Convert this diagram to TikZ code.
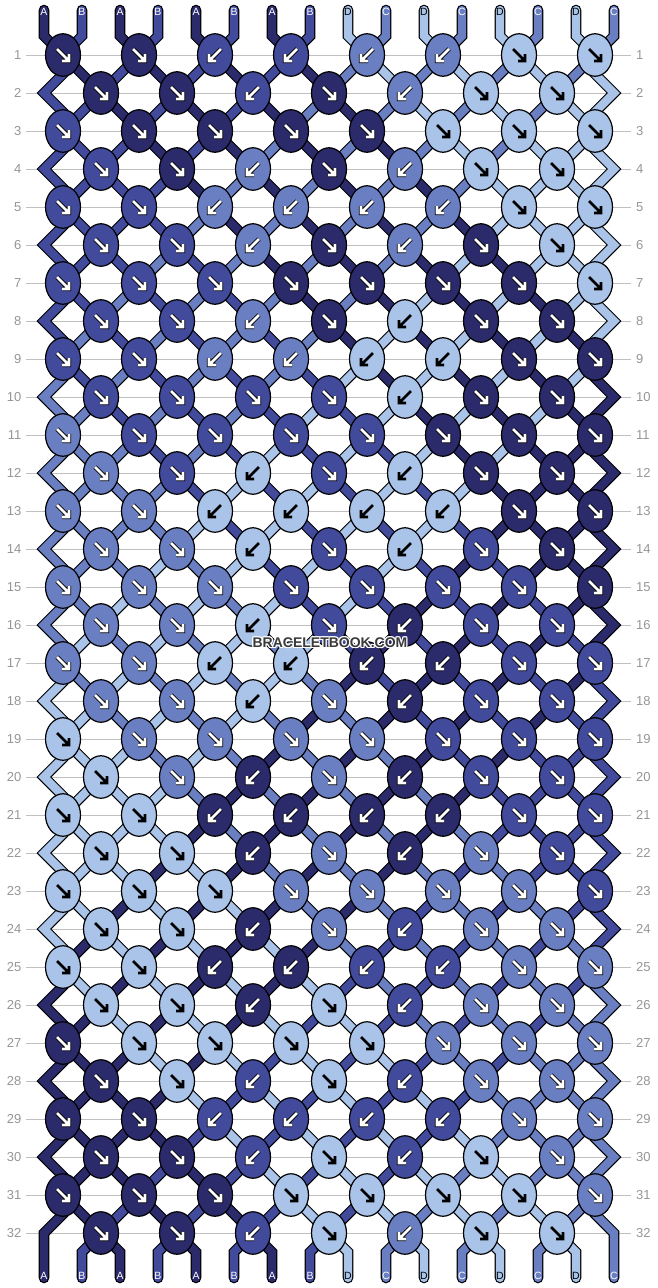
\documentclass[tikz,border=0pt]{standalone}
\usepackage{fontspec}
\setmainfont{Liberation Sans}
\usetikzlibrary{shapes.geometric}
\definecolor{colA}{HTML}{2B2A6B}
\definecolor{colB}{HTML}{414A9B}
\definecolor{colC}{HTML}{6A7EC2}
\definecolor{colD}{HTML}{A9C4E8}
\definecolor{rowgray}{HTML}{C0C0C0}
\definecolor{numgray}{HTML}{969696}
\definecolor{wmgray}{HTML}{3A3A3A}
\pgfdeclarelayer{bg}
\pgfsetlayers{bg,main}
\tikzset{
  knot/.style={ellipse, draw=black, line width=1.2pt, minimum width=35pt, minimum height=42.5pt, inner sep=0pt},
  strout/.style={draw=black, line width=10.6pt, line cap=round},
  strin/.style={line width=8.2pt, line cap=round},
  rowline/.style={draw=rowgray, line width=1pt},
  rownum/.style={text=numgray, font=\fontsize{13}{13}\selectfont, inner sep=0pt},
  strlabel/.style={font=\fontsize{10.5}{10.5}\selectfont, inner sep=0pt},
  arrout/.style={draw=black, line width=4.4pt},
  arrin/.style={draw=white, line width=2.6pt},
  arrdark/.style={draw=black, line width=2.8pt},
  wmark/.style={font=\fontsize{14}{14}\selectfont\bfseries, inner sep=0pt},
  pics/arrse/.style={code={\draw[#1] (-6,-6) -- (6,6) (6,-1) -- (6,6) -- (-1,6);}},
  pics/arrsw/.style={code={\draw[#1] (6,-6) -- (-6,6) (-6,-1) -- (-6,6) -- (1,6);}},
}
\newcommand\twopath[3]{\draw[#1] #3; \draw[#2] #3;}
\expandafter\def\csname dir1\endcsname{1,1,0,0,0,0,1,1}
\expandafter\def\csname dir2\endcsname{1,1,0,1,0,1,1}
\expandafter\def\csname dir3\endcsname{1,1,1,1,1,1,1,1}
\expandafter\def\csname dir4\endcsname{1,1,0,1,0,1,1}
\expandafter\def\csname dir5\endcsname{1,1,0,0,0,0,1,1}
\expandafter\def\csname dir6\endcsname{1,1,0,1,0,1,1}
\expandafter\def\csname dir7\endcsname{1,1,1,1,1,1,1,1}
\expandafter\def\csname dir8\endcsname{1,1,0,1,0,1,1}
\expandafter\def\csname dir9\endcsname{1,1,0,0,0,0,1,1}
\expandafter\def\csname dir10\endcsname{1,1,1,1,0,1,1}
\expandafter\def\csname dir11\endcsname{1,1,1,1,1,1,1,1}
\expandafter\def\csname dir12\endcsname{1,1,0,1,0,1,1}
\expandafter\def\csname dir13\endcsname{1,1,0,0,0,0,1,1}
\expandafter\def\csname dir14\endcsname{1,1,0,1,0,1,1}
\expandafter\def\csname dir15\endcsname{1,1,1,1,1,1,1,1}
\expandafter\def\csname dir16\endcsname{1,1,0,1,0,1,1}
\expandafter\def\csname dir17\endcsname{1,1,0,0,0,0,1,1}
\expandafter\def\csname dir18\endcsname{1,1,0,1,0,1,1}
\expandafter\def\csname dir19\endcsname{1,1,1,1,1,1,1,1}
\expandafter\def\csname dir20\endcsname{1,1,0,1,0,1,1}
\expandafter\def\csname dir21\endcsname{1,1,0,0,0,0,1,1}
\expandafter\def\csname dir22\endcsname{1,1,0,1,0,1,1}
\expandafter\def\csname dir23\endcsname{1,1,1,1,1,1,1,1}
\expandafter\def\csname dir24\endcsname{1,1,0,1,0,1,1}
\expandafter\def\csname dir25\endcsname{1,1,0,0,0,0,1,1}
\expandafter\def\csname dir26\endcsname{1,1,0,1,0,1,1}
\expandafter\def\csname dir27\endcsname{1,1,1,1,1,1,1,1}
\expandafter\def\csname dir28\endcsname{1,1,0,1,0,1,1}
\expandafter\def\csname dir29\endcsname{1,1,0,0,0,0,1,1}
\expandafter\def\csname dir30\endcsname{1,1,0,1,0,1,1}
\expandafter\def\csname dir31\endcsname{1,1,1,1,1,1,1,1}
\expandafter\def\csname dir32\endcsname{1,1,0,1,0,1,1}
\begin{document}
\begin{tikzpicture}[x=1pt,y=-1pt]
\useasboundingbox (0,0) rectangle (658,1288);
% ---- simulate the strings ----
\foreach \cc [count=\ii from 0] in {A,B,A,B,A,B,A,B,D,C,D,C,D,C,D,C}{%
  \expandafter\xdef\csname s\ii\endcsname{\cc}%
  \expandafter\xdef\csname st-0-\ii\endcsname{\cc}}
\foreach \rr in {1,...,32}{%
  \pgfmathtruncatemacro\off{mod(\rr+1,2)}%
  \edef\dl{\csname dir\rr\endcsname}%
  \foreach \dd [count=\kk from 0] in \dl {%
    \pgfmathtruncatemacro\pa{2*\kk+\off}%
    \pgfmathtruncatemacro\pb{\pa+1}%
    \edef\cla{\csname s\pa\endcsname}%
    \edef\clb{\csname s\pb\endcsname}%
    \ifnum\dd=1 \expandafter\xdef\csname kc-\rr-\kk\endcsname{\cla}%
    \else \expandafter\xdef\csname kc-\rr-\kk\endcsname{\clb}\fi
    \expandafter\xdef\csname s\pa\endcsname{\clb}%
    \expandafter\xdef\csname s\pb\endcsname{\cla}%
  }%
  \foreach \ii in {0,...,15}{\expandafter\xdef\csname st-\rr-\ii\endcsname{\csname s\ii\endcsname}}%
}
% ---- knots ----
\foreach \rr in {1,...,32}{%
  \pgfmathtruncatemacro\off{mod(\rr+1,2)}%
  \pgfmathsetmacro\ky{55+38*(\rr-1)}%
  \edef\dl{\csname dir\rr\endcsname}%
  \coordinate (EL-\rr) at (44,\ky);
  \coordinate (ER-\rr) at (614,\ky);
  \node[rownum, anchor=east] (NL-\rr) at (21.5,\ky) {\rr};
  \node[rownum, anchor=west] (NR-\rr) at (636,\ky) {\rr};
  \foreach \dd [count=\kk from 0] in \dl {%
    \pgfmathsetmacro\kx{63+38*\off+76*\kk}%
    \edef\kc{\csname kc-\rr-\kk\endcsname}%
    \edef\kfill{col\kc}%
    \node[knot, fill=\kfill] (K-\rr-\kk) at (\kx,\ky) {};
    \ifnum\dd=1
      \if D\kc \pic at (\kx,\ky) {arrse=arrdark};\else \pic at (\kx,\ky) {arrse=arrout}; \pic at (\kx,\ky) {arrse=arrin};\fi
    \else
      \if D\kc \pic at (\kx,\ky) {arrsw=arrdark};\else \pic at (\kx,\ky) {arrsw=arrout}; \pic at (\kx,\ky) {arrsw=arrin};\fi
    \fi
  }%
}
% ---- string labels ----
\foreach \ii in {0,...,15}{%
  \edef\ct{\csname st-0-\ii\endcsname}%
  \if D\ct \def\tc{black}\else\def\tc{white}\fi
  \node[strlabel, text=\tc] (T-\ii) at (44+38*\ii,12) {\ct};
  \edef\cb{\csname st-32-\ii\endcsname}%
  \if D\cb \def\tc{black}\else\def\tc{white}\fi
  \node[strlabel, text=\tc] (B-\ii) at (44+38*\ii,1276) {\cb};
  \coordinate (BB-\ii) at (44+38*\ii,1252);
}
% ---- strings and row lines (behind) ----
\begin{pgfonlayer}{bg}
\fill[white] (0,0) rectangle (658,1288);
\foreach \rr in {1,...,32}{%
  \pgfmathsetmacro\ky{55+38*(\rr-1)}%
  \draw[rowline] (26,\ky) -- (631,\ky);
}
% top
\foreach \ii in {0,...,15}{%
  \pgfmathtruncatemacro\ka{div(\ii,2)}%
  \edef\scol{col\csname st-0-\ii\endcsname}%
  \twopath{strout}{strin,draw=\scol}{([yshift=2pt]T-\ii.center) -- ++(0,26) -- (K-1-\ka.center)}
}
% odd row -> even row
\foreach \rr in {1,3,...,31}{%
  \pgfmathtruncatemacro\rn{\rr+1}%
  \foreach \ii in {1,...,14}{%
    \pgfmathtruncatemacro\ka{div(\ii,2)}%
    \pgfmathtruncatemacro\kb{div(\ii-1,2)}%
    \edef\scol{col\csname st-\rr-\ii\endcsname}%
    \twopath{strout}{strin,draw=\scol}{(K-\rr-\ka.center) -- (K-\rn-\kb.center)}
  }%
}
% even row -> odd row
\foreach \rr in {2,4,...,30}{%
  \pgfmathtruncatemacro\rn{\rr+1}%
  \foreach \ii in {1,...,14}{%
    \pgfmathtruncatemacro\ka{div(\ii-1,2)}%
    \pgfmathtruncatemacro\kb{div(\ii,2)}%
    \edef\scol{col\csname st-\rr-\ii\endcsname}%
    \twopath{strout}{strin,draw=\scol}{(K-\rr-\ka.center) -- (K-\rn-\kb.center)}
  }%
}
% edge strings
\foreach \rr in {2,4,...,30}{%
  \pgfmathtruncatemacro\rp{\rr-1}%
  \pgfmathtruncatemacro\rn{\rr+1}%
  \edef\scol{col\csname st-\rr-0\endcsname}%
  \twopath{strout}{strin,draw=\scol}{(K-\rp-0.center) -- ++(0,19) -- (EL-\rr) -- ++(19,19) -- (K-\rn-0.center)}
  \edef\scol{col\csname st-\rr-15\endcsname}%
  \twopath{strout}{strin,draw=\scol}{(K-\rp-7.center) -- ++(0,19) -- (ER-\rr) -- ++(-19,19) -- (K-\rn-7.center)}
}
\edef\scol{col\csname st-32-0\endcsname}%
\twopath{strout}{strin,draw=\scol}{(K-31-0.center) -- ++(0,19) -- (EL-32) -- ([yshift=-2pt]B-0.center)}
\edef\scol{col\csname st-32-15\endcsname}%
\twopath{strout}{strin,draw=\scol}{(K-31-7.center) -- ++(0,19) -- (ER-32) -- ([yshift=-2pt]B-15.center)}
% bottom
\foreach \ii in {1,...,14}{%
  \pgfmathtruncatemacro\ka{div(\ii-1,2)}%
  \edef\scol{col\csname st-32-\ii\endcsname}%
  \twopath{strout}{strin,draw=\scol}{(K-32-\ka.center) -- (BB-\ii) -- ([yshift=-2pt]B-\ii.center)}
}
\end{pgfonlayer}
% ---- watermark ----
\foreach \dx/\dy in {1/0,-1/0,0/1,0/-1,1/1,-1/-1,1/-1,-1/1}{%
  \node[wmark, text=white] at (330+\dx,643+\dy) {BRACELETBOOK.COM};
}
\node[wmark, text=wmgray] (wm) at (330,643) {BRACELETBOOK.COM};
\end{tikzpicture}
\end{document}
